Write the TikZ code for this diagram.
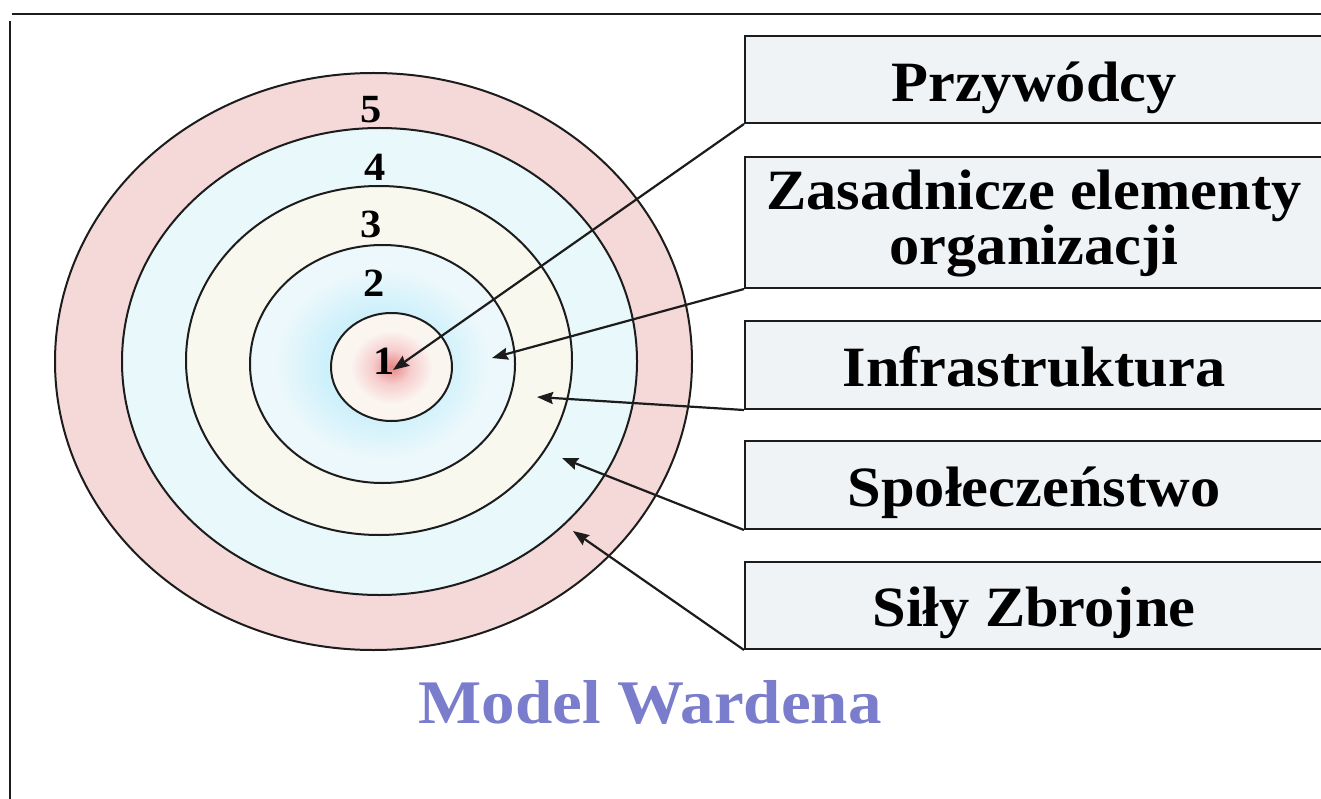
\documentclass[tikz,border=0pt]{standalone}
\usepackage{fontspec}
\setmainfont{Liberation Serif}
\usepackage{graphicx}
\usetikzlibrary{arrows.meta}
\definecolor{ringfive}{RGB}{245,216,216}
\definecolor{ringfour}{RGB}{233,248,251}
\definecolor{ringthree}{RGB}{249,248,238}
\definecolor{cyanA}{RGB}{205,240,251}
\definecolor{cyanB}{RGB}{236,248,251}
\definecolor{redA}{RGB}{232,132,132}
\definecolor{redB}{RGB}{246,205,205}
\definecolor{coreW}{RGB}{251,245,240}
\definecolor{boxfill}{RGB}{239,243,246}
\definecolor{titleblue}{RGB}{122,124,204}
\definecolor{inkdark}{RGB}{28,28,28}
\pgfdeclareradialshading{cyanring}{\pgfpoint{0bp}{0bp}}{color(0bp)=(cyanA); color(11bp)=(cyanA); color(20bp)=(cyanB); color(25bp)=(cyanB); color(50bp)=(cyanB)}
\pgfdeclareradialshading{redcore}{\pgfpoint{0bp}{0bp}}{color(0bp)=(redA); color(8bp)=(redB); color(17bp)=(coreW); color(25bp)=(coreW); color(50bp)=(coreW)}
\newcommand\wtxt[1]{\scalebox{1.06}[1]{#1}}
\begin{document}
\begin{tikzpicture}[x=1pt,y=-1pt,
  ring/.style={draw=inkdark,line width=2pt},
  labelbox/.style={draw=inkdark,line width=2pt,fill=boxfill,anchor=north west,minimum width=581pt,inner sep=0pt},
  boxtext/.style={anchor=base,inner sep=0pt,font=\fontsize{57}{60}\selectfont\bfseries},
  digit/.style={anchor=base,inner sep=0pt,font=\fontsize{40}{42}\selectfont\bfseries},
  arr/.style={draw=inkdark,line width=2.2pt,-{Stealth[length=16pt,width=12pt,inset=2pt]}}]
\useasboundingbox (0,0) rectangle (1321,799);
\clip (0,0) rectangle (1321,799);
\fill[white] (0,0) rectangle (1321,799);
% frame
\draw[line width=2.5pt,inkdark] (12,14) -- (1330,14);
\draw[line width=2pt,inkdark] (10,21) -- (10,810);
% rings
\fill[ringfive] (373.5,361.5) ellipse [x radius=318.5,y radius=288.5];
\fill[ringfour] (379.5,361.5) ellipse [x radius=257.5,y radius=233.5];
\fill[ringthree] (379,360.5) ellipse [x radius=193,y radius=174.5];
\shade[shading=cyanring] (382.5,364) ellipse [x radius=132.5,y radius=119];
\shade[shading=redcore] (391.5,367) ellipse [x radius=60.5,y radius=54];
\draw[ring] (373.5,361.5) ellipse [x radius=318.5,y radius=288.5];
\draw[ring] (379.5,361.5) ellipse [x radius=257.5,y radius=233.5];
\draw[ring] (379,360.5) ellipse [x radius=193,y radius=174.5];
\draw[ring] (382.5,364) ellipse [x radius=132.5,y radius=119];
\draw[ring] (391.5,367) ellipse [x radius=60.5,y radius=54];
% digits
\node[digit] (d5) at (371,123) {\wtxt{5}};
\node[digit] (d4) at (375,181) {\wtxt{4}};
\node[digit] (d3) at (371,238) {\wtxt{3}};
\node[digit] (d2) at (374,297) {\wtxt{2}};
\node[digit] (d1) at (384,374) {\wtxt{1}};
% boxes
\node[labelbox,minimum height=87pt] (b1) at (744,35) {};
\node[labelbox,minimum height=131pt] (b2) at (744,156) {};
\node[labelbox,minimum height=88pt] (b3) at (744,320) {};
\node[labelbox,minimum height=88pt] (b4) at (744,440) {};
\node[labelbox,minimum height=87pt] (b5) at (744,561) {};
\node[boxtext] (t1) at (1034,102) {\wtxt{Przywódcy}};
\node[boxtext] (t2a) at (1034,210) {\wtxt{Zasadnicze elementy}};
\node[boxtext] (t2b) at (1034,265) {\wtxt{organizacji}};
\node[boxtext] (t3) at (1034,386) {\wtxt{Infrastruktura}};
\node[boxtext] (t4) at (1034,506) {\wtxt{Społeczeństwo}};
\node[boxtext] (t5) at (1034,626) {\wtxt{Siły Zbrojne}};
% arrow targets
\coordinate (p1) at (393,370);
\coordinate (p2) at (492,358);
\coordinate (p3) at (537,397);
\coordinate (p4) at (562,458);
\coordinate (p5) at (573,531);
\draw[arr] (b1.south west) -- (p1);
\draw[arr] (b2.south west) -- (p2);
\draw[arr] (b3.south west) -- (p3);
\draw[arr] (b4.south west) -- (p4);
\draw[arr] (b5.south west) -- (p5);
% title
\node[anchor=base,inner sep=0pt,text=titleblue,font=\fontsize{62}{66}\selectfont\bfseries] (title) at (650,723) {\scalebox{1.08}[1]{Model Wardena}};
\end{tikzpicture}
\end{document}
